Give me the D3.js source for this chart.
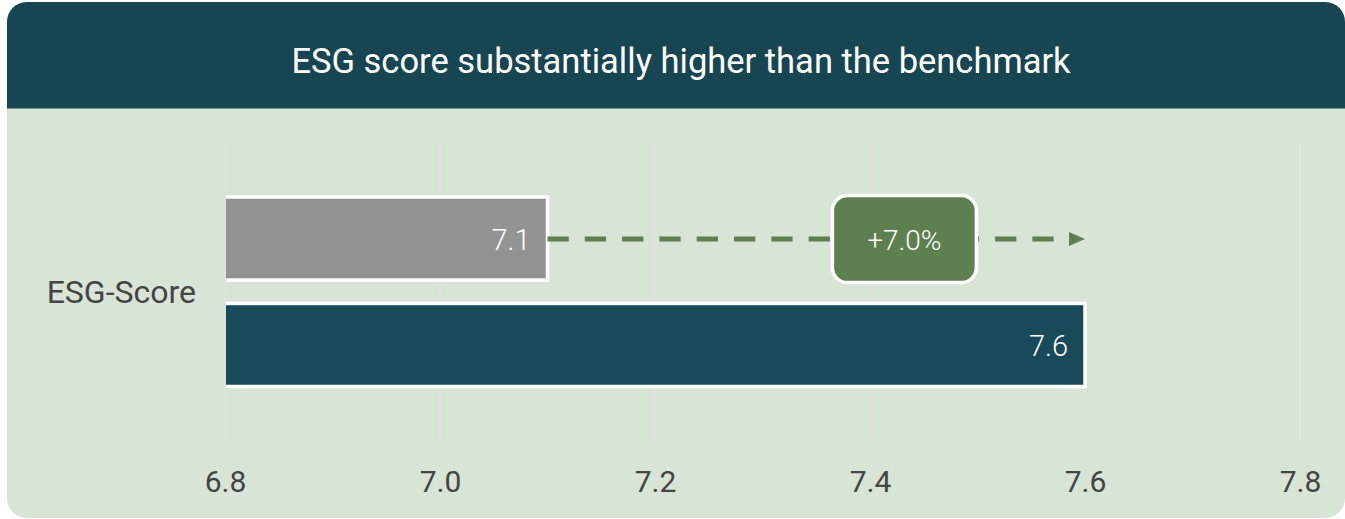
<!DOCTYPE html>
<html>
<head>
<meta charset="utf-8">
<script src="https://cdn.jsdelivr.net/npm/d3@7"></script>
<style>
  html, body { margin: 0; padding: 0; background: #ffffff; }
  svg { display: block; font-family: Roboto, "Noto Sans", sans-serif; }
</style>
</head>
<body>
<svg id="chart" width="1345" height="519"></svg>
<script>
// data
const title = "ESG score substantially higher than the benchmark";
const category = "ESG-Score";
const seriesNames = ["Benchmark", "Portfolio"];
const seriesValues = [7.1, 7.6];
const xTicks = [6.8, 7.0, 7.2, 7.4, 7.6, 7.8];
const changeLabel = "+7.0%";
const changeAt = 7.432; // where the badge sits on the arrow

const W = 1345, H = 519;
const card = { x: 7, y: 2, w: 1338, h: 516, r: 20, head: 106 };

const svg = d3.select("#chart");

// card background
svg.append("rect")
    .attr("x", card.x).attr("y", card.y)
    .attr("width", card.w).attr("height", card.h)
    .attr("rx", card.r)
    .attr("fill", "#d8e4d5");

// header with rounded top corners only
const hp = d3.path();
hp.moveTo(card.x, card.y + card.head);
hp.lineTo(card.x, card.y + card.r);
hp.arcTo(card.x, card.y, card.x + card.r, card.y, card.r);
hp.lineTo(card.x + card.w - card.r, card.y);
hp.arcTo(card.x + card.w, card.y, card.x + card.w, card.y + card.r, card.r);
hp.lineTo(card.x + card.w, card.y + card.head);
hp.closePath();
svg.append("path").attr("d", hp.toString()).attr("fill", "#184552");
svg.append("line")
    .attr("x1", card.x).attr("x2", card.x + card.w)
    .attr("y1", card.y + card.head + 0.5).attr("y2", card.y + card.head + 0.5)
    .attr("stroke", "#6e9492").attr("stroke-width", 1);

svg.append("text")
    .attr("x", 681).attr("y", 73)
    .attr("text-anchor", "middle")
    .attr("fill", "#ffffff")
    .style("font-size", "34.5px")
    .text(title);

// scales
const x = d3.scaleLinear().domain([6.8, 7.8]).range([225, 1300]);
const y = d3.scaleBand().domain(seriesNames).range([197, 386.5]).paddingInner(0.22).paddingOuter(0);
const colors = d3.scaleOrdinal().domain(seriesNames).range(["#939393", "#184a5a"]);

const gridTop = 142, gridBottom = 440;

// gridlines
svg.append("g")
    .selectAll("line")
    .data(xTicks)
    .enter()
    .append("line")
    .attr("x1", d => x(d)).attr("x2", d => x(d))
    .attr("y1", gridTop).attr("y2", gridBottom)
    .attr("stroke", "#e1e2dd")
    .attr("stroke-width", 2);

// x axis labels
const xAxis = d3.axisBottom(x).tickValues(xTicks).tickSize(0).tickPadding(31).tickFormat(d3.format(".1f"));
const gx = svg.append("g").attr("transform", `translate(0, ${gridBottom})`).call(xAxis);
gx.select(".domain").remove();
gx.selectAll("text")
    .attr("fill", "#444444")
    .style("font-size", "30px")
    .style("font-family", "Roboto, 'Noto Sans', sans-serif");

// bars (white outline on top/right/bottom, left edge clipped at the axis start)
svg.append("clipPath").attr("id", "plotclip")
    .append("rect").attr("x", x(6.8) + 1).attr("y", 150).attr("width", 1100).attr("height", 300);

const bars = svg.append("g").attr("clip-path", "url(#plotclip)");
bars.selectAll("rect")
    .data(seriesValues)
    .enter()
    .append("rect")
    .attr("x", x(6.8) - 5)
    .attr("y", (d, i) => y(seriesNames[i]))
    .attr("width", d => x(d) - x(6.8) + 5)
    .attr("height", y.bandwidth())
    .attr("fill", (d, i) => colors(seriesNames[i]))
    .attr("stroke", "#ffffff")
    .attr("stroke-width", 3.5);

// value labels inside the bars
svg.append("g")
    .selectAll("text")
    .data(seriesValues)
    .enter()
    .append("text")
    .attr("x", d => x(d) - 17)
    .attr("y", (d, i) => y(seriesNames[i]) + y.bandwidth() / 2 + 11)
    .attr("text-anchor", "end")
    .attr("fill", "#ffffff")
    .style("font-size", "29px")
    .style("font-weight", 300)
    .text(d => d3.format(".1f")(d));

// category label
svg.append("text")
    .attr("x", x(6.8) - 29)
    .attr("y", (y(seriesNames[0]) + y(seriesNames[1]) + y.bandwidth()) / 2 + 11)
    .attr("text-anchor", "end")
    .attr("fill", "#444444")
    .style("font-size", "32px")
    .text(category);

// dashed arrow from benchmark to portfolio value
const arrowY = y(seriesNames[0]) + y.bandwidth() / 2 + 0.5;
const green = "#5e7f50";
svg.append("line")
    .attr("x1", x(seriesValues[0])).attr("x2", x(seriesValues[1]) - 16)
    .attr("y1", arrowY).attr("y2", arrowY)
    .attr("stroke", green)
    .attr("stroke-width", 5)
    .attr("stroke-dasharray", "21.3,16");
svg.append("path")
    .attr("d", d3.line()([
        [x(seriesValues[1]) - 16, arrowY - 7],
        [x(seriesValues[1]), arrowY],
        [x(seriesValues[1]) - 16, arrowY + 7]]) + "Z")
    .attr("fill", green);

// change badge
const bw = 144, bh = 87;
const badge = svg.append("g").attr("transform", `translate(${x(changeAt)}, ${arrowY})`);
badge.append("rect")
    .attr("x", -bw / 2).attr("y", -bh / 2)
    .attr("width", bw).attr("height", bh)
    .attr("rx", 15)
    .attr("fill", green)
    .attr("stroke", "#ffffff")
    .attr("stroke-width", 3.5);
badge.append("text")
    .attr("y", 11)
    .attr("text-anchor", "middle")
    .attr("fill", "#ffffff")
    .style("font-size", "28px")
    .style("font-weight", 300)
    .text(changeLabel);
</script>
</body>
</html>
